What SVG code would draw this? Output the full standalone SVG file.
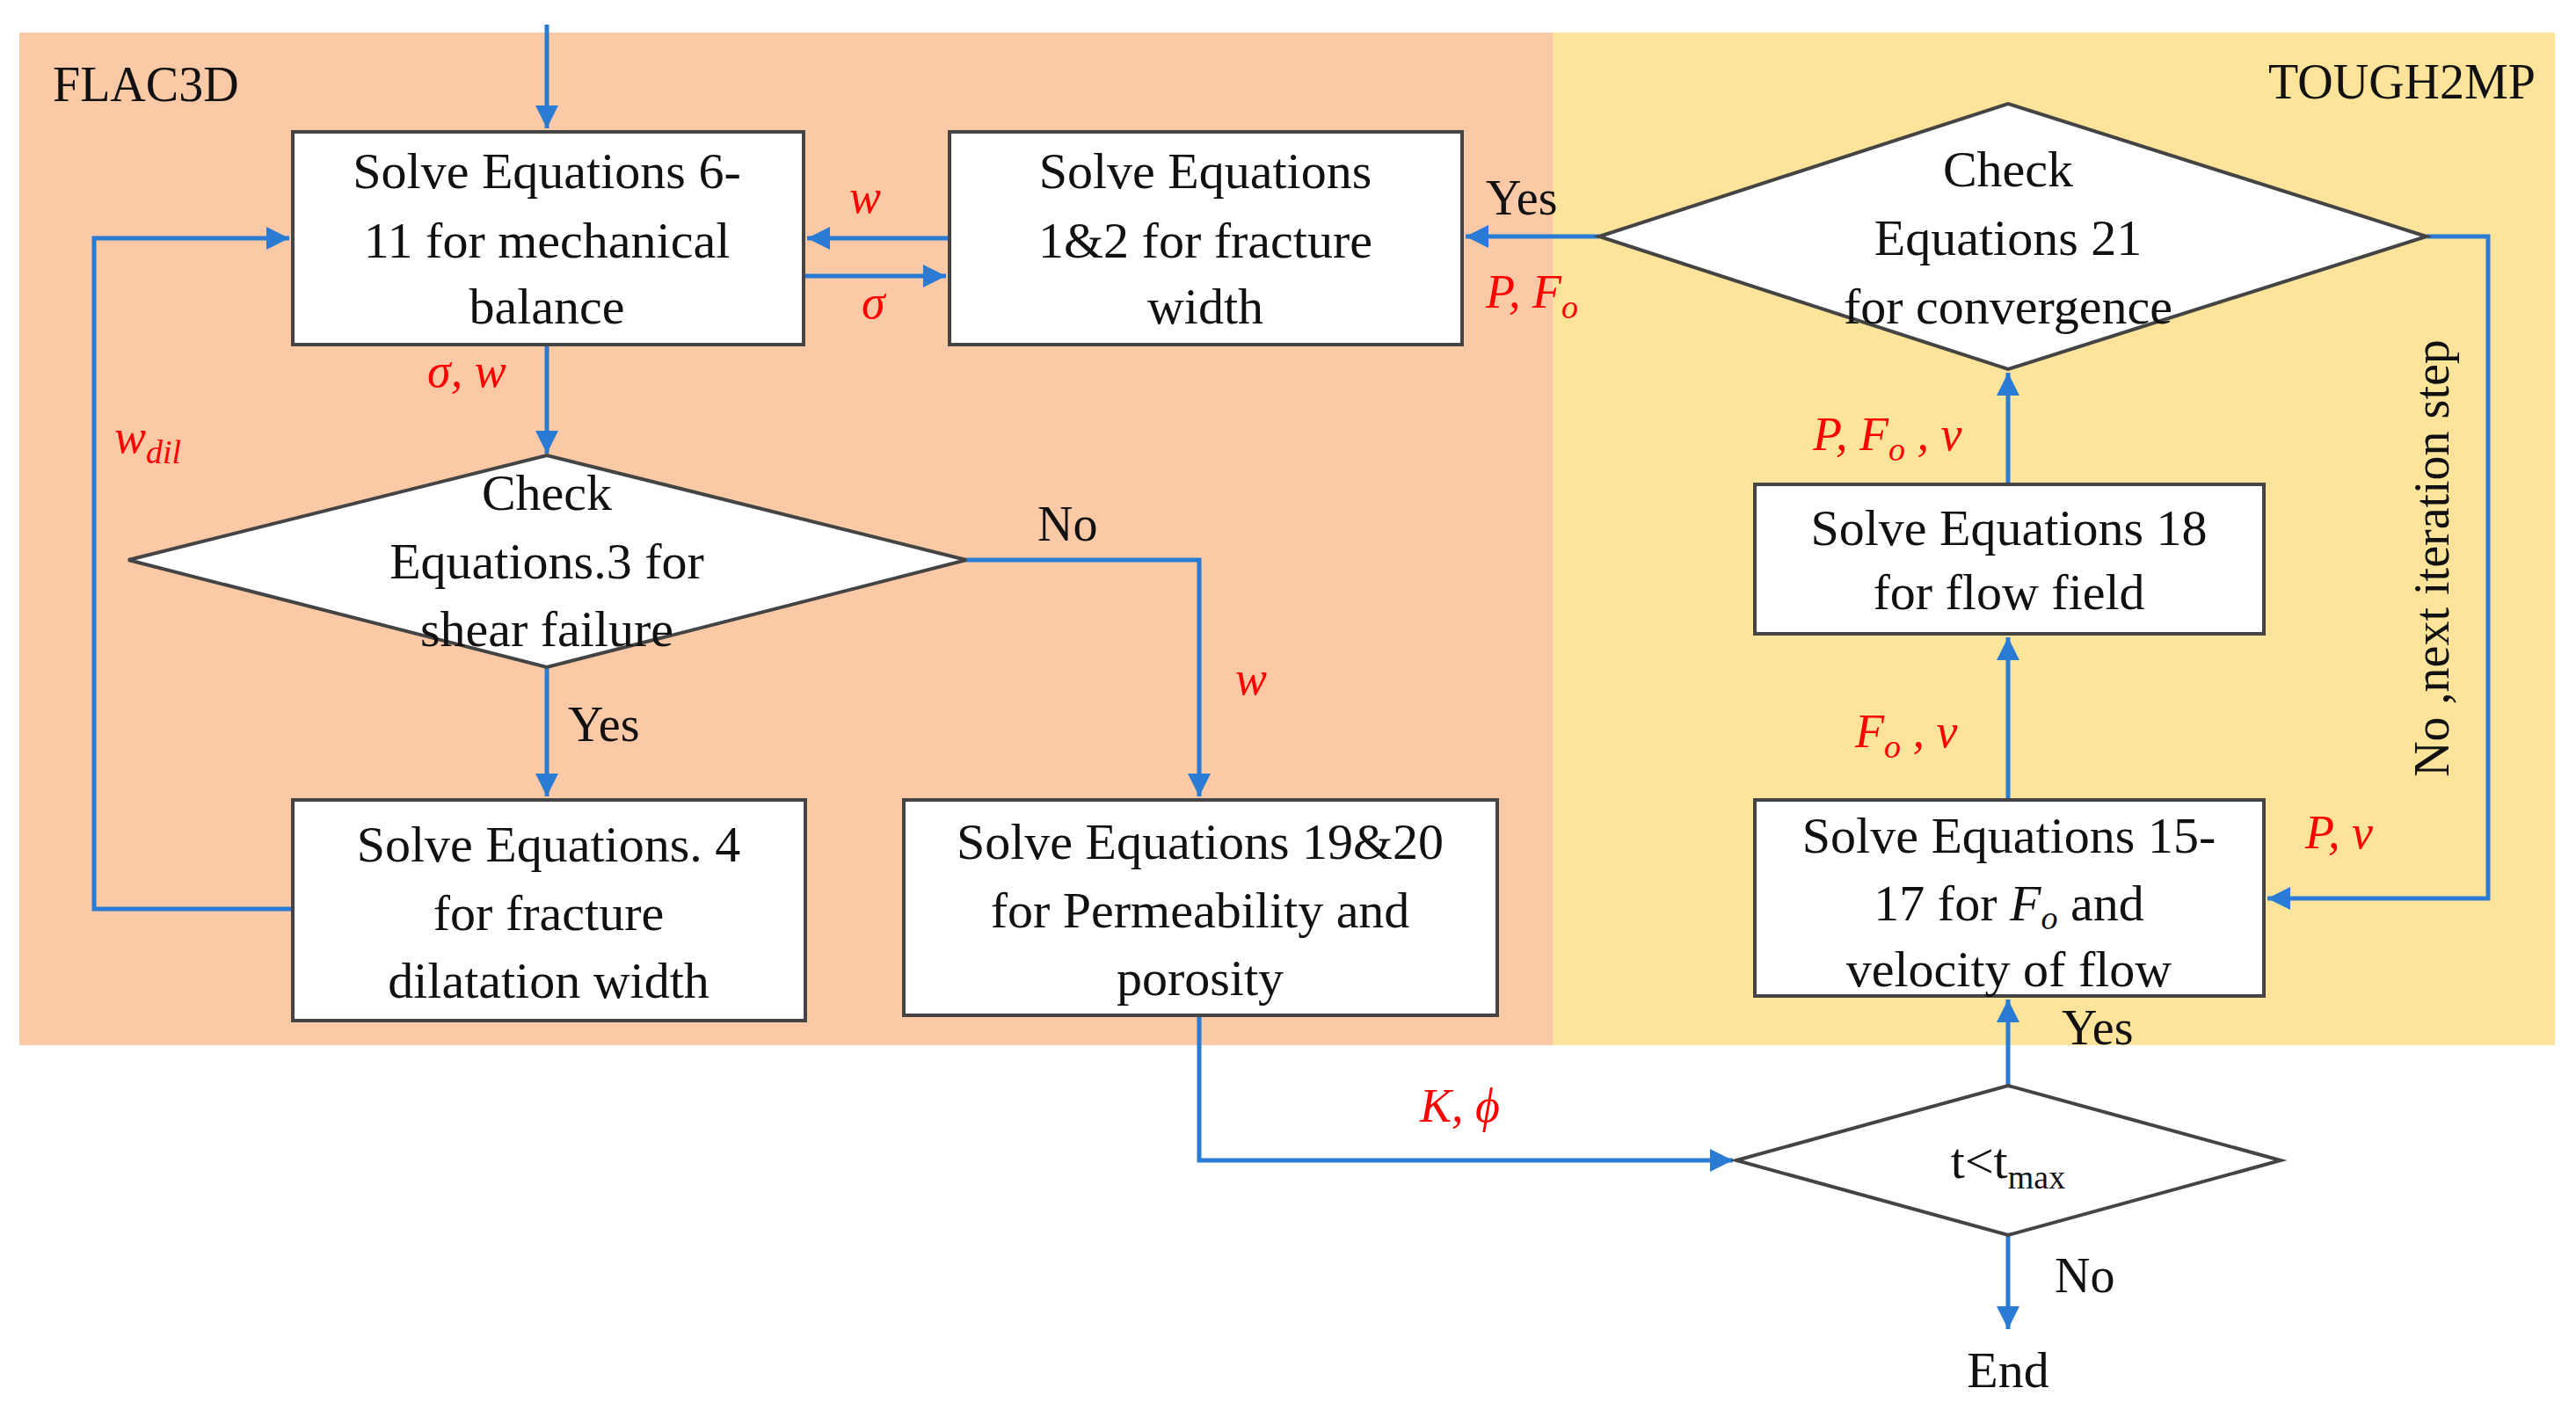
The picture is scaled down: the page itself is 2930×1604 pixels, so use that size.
<svg xmlns="http://www.w3.org/2000/svg" width="2930" height="1604" viewBox="0 0 2930 1604">
<style>
.box{fill:#fff;stroke:#444;stroke-width:4}
.t{font-family:"Liberation Serif","Times New Roman","DejaVu Serif",serif;font-size:58px;fill:#111;text-anchor:middle}
.l{font-family:"Liberation Serif","Times New Roman","DejaVu Serif",serif;font-size:56px;fill:#111}
.r{font-family:"Liberation Serif","Times New Roman","DejaVu Serif",serif;font-size:54px;fill:#f00;font-style:italic}
.c{fill:none;stroke:#2a7bd4;stroke-width:5}
</style>
<defs><marker id="a" viewBox="0 0 10 10" refX="10" refY="5" markerWidth="30" markerHeight="26" markerUnits="userSpaceOnUse" orient="auto"><path d="M0,0L10,5L0,10z" fill="#2a7bd4"/></marker></defs>
<rect x="22" y="37" width="1744" height="1152" fill="#fbc9a6"/>
<rect x="1766" y="37" width="1140" height="1152" fill="#fde49a"/>
<text class="l" x="60" y="115">FLAC3D</text>
<text class="l" x="2884" y="112" text-anchor="end">TOUGH2MP</text>
<g id="connectors">
<path class="c" d="M622,28V146" marker-end="url(#a)"/>
<path class="c" d="M1080,271H918" marker-end="url(#a)"/>
<path class="c" d="M914,314H1076" marker-end="url(#a)"/>
<path class="c" d="M1819,269H1667" marker-end="url(#a)"/>
<path class="c" d="M622,392V516" marker-end="url(#a)"/>
<path class="c" d="M622,759V906" marker-end="url(#a)"/>
<path class="c" d="M333,1034H107V271H329" marker-end="url(#a)"/>
<path class="c" d="M1099,637H1364V906" marker-end="url(#a)"/>
<path class="c" d="M1364,1155V1320H1971" marker-end="url(#a)"/>
<path class="c" d="M2284,1235V1137" marker-end="url(#a)"/>
<path class="c" d="M2284,910V725" marker-end="url(#a)"/>
<path class="c" d="M2284,551V424" marker-end="url(#a)"/>
<path class="c" d="M2760,269H2830V1022H2579" marker-end="url(#a)"/>
<path class="c" d="M2284,1405V1512" marker-end="url(#a)"/>
</g>
<g id="n1"><rect class="box" x="333" y="150" width="581" height="242"/>
<text class="t" x="622" y="214">Solve Equations 6-</text><text class="t" x="622" y="293">11 for mechanical</text><text class="t" x="622" y="368">balance</text></g>
<g id="n2"><rect class="box" x="1080" y="150" width="583" height="242"/>
<text class="t" x="1371" y="214">Solve Equations</text><text class="t" x="1371" y="293">1&amp;2 for fracture</text><text class="t" x="1371" y="368">width</text></g>
<g id="n3"><polygon class="box" points="146,637 622,518 1099,637 622,759"/>
<text class="t" x="622" y="580">Check</text><text class="t" x="622" y="658">Equations.3 for</text><text class="t" x="622" y="735">shear failure</text></g>
<g id="n4"><rect class="box" x="333" y="910" width="583" height="251"/>
<text class="t" x="624" y="980">Solve Equations. 4</text><text class="t" x="624" y="1058">for fracture</text><text class="t" x="624" y="1135">dilatation width</text></g>
<g id="n5"><rect class="box" x="1028" y="910" width="675" height="245"/>
<text class="t" x="1365" y="977">Solve Equations 19&amp;20</text><text class="t" x="1365" y="1055">for Permeability and</text><text class="t" x="1365" y="1132">porosity</text></g>
<g id="n6"><polygon class="box" points="1819,269 2284,118 2760,269 2284,420"/>
<text class="t" x="2284" y="212">Check</text><text class="t" x="2284" y="290">Equations 21</text><text class="t" x="2284" y="368">for convergence</text></g>
<g id="n7"><rect class="box" x="1996" y="551" width="579" height="170"/>
<text class="t" x="2285" y="620">Solve Equations 18</text><text class="t" x="2285" y="693">for flow field</text></g>
<g id="n8"><rect class="box" x="1996" y="910" width="579" height="223"/>
<text class="t" x="2285" y="970">Solve Equations 15-</text><text class="t" x="2285" y="1047">17 for <tspan font-style="italic">F<tspan font-size="38" dy="10">o</tspan></tspan><tspan dy="-10"> and</tspan></text><text class="t" x="2285" y="1122">velocity of flow</text></g>
<g id="n9"><polygon class="box" points="1975,1320 2284,1235 2594,1320 2284,1405"/>
<text class="t" x="2284" y="1340">t&lt;t<tspan font-size="38" dy="12">max</tspan></text></g>
<text class="t" x="2284" y="1578">End</text>
<text class="r" x="966" y="242">w</text>
<text class="r" x="980" y="362">σ</text>
<text class="r" x="486" y="440">σ, w</text>
<text class="r" x="130" y="515">w<tspan font-size="38" dy="12">dil</tspan></text>
<text class="r" x="1405" y="790">w</text>
<text class="r" x="1690" y="350">P, F<tspan font-size="38" dy="12">o</tspan></text>
<text class="r" x="1615" y="1276">K, ϕ</text>
<text class="r" x="2062" y="512">P, F<tspan font-size="38" dy="12">o</tspan><tspan dy="-12"> , v</tspan></text>
<text class="r" x="2110" y="850">F<tspan font-size="38" dy="12">o</tspan><tspan dy="-12"> , v</tspan></text>
<text class="r" x="2622" y="965">P, v</text>
<text class="l" x="1690" y="244">Yes</text>
<text class="l" x="1180" y="615">No</text>
<text class="l" x="646" y="843">Yes</text>
<text class="l" x="2345" y="1188">Yes</text>
<text class="l" x="2337" y="1470">No</text>
<text class="l" transform="translate(2785,635) rotate(-90)" text-anchor="middle">No ,next iteration step</text>
</svg>
